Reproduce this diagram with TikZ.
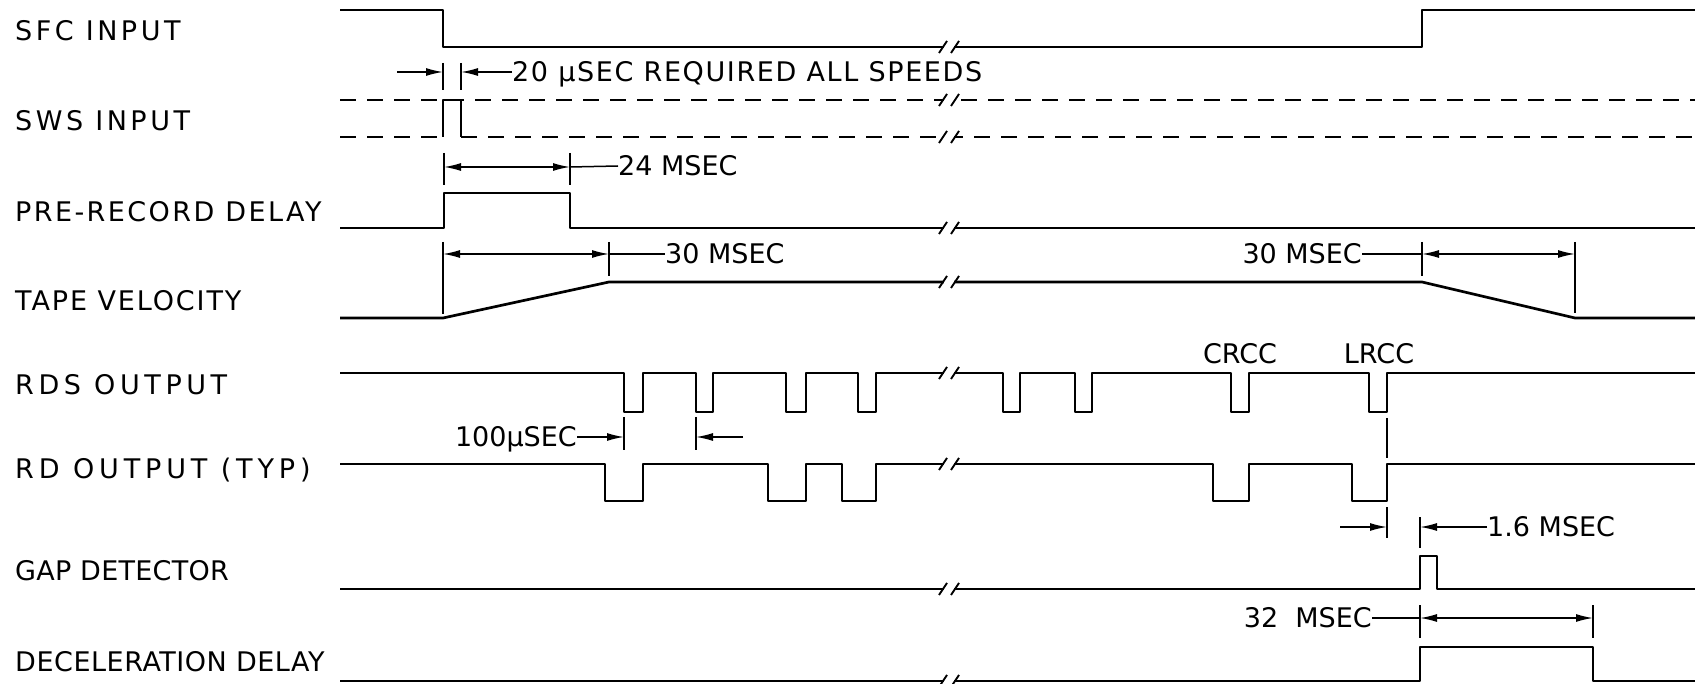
\documentclass[tikz,border=0pt]{standalone}
\usepackage{fontspec}
\setmainfont{DejaVu Sans}
\usepackage{tikz}
\usetikzlibrary{arrows.meta}

% break mark on a time line
\newcommand{\brkmark}[1]{%
    \fill[white] (944,#1-5) rectangle (954,#1+5);
    \draw[brkline] (939,#1+6) -- (947,#1-6);
    \draw[brkline] (951,#1+6) -- (959,#1-6);
}

\begin{document}
\begin{tikzpicture}[x=1pt, y=-1pt,
    wave/.style={line width=2.7pt, line join=round},
    dimline/.style={line width=1.5pt},
    tickline/.style={line width=1.7pt},
    brkline/.style={line width=1.9pt},
    lbl/.style={anchor=west, inner sep=0pt, text height=19.5pt, text depth=0pt, font=\fontsize{27}{30}\selectfont},
    spaced/.style={font=\fontsize{27}{30}\selectfont\addfontfeatures{LetterSpace=#1}},
    dimarrow/.style={dimline, -{Latex[length=17pt, width=8pt]}},
    dimboth/.style={dimline, {Latex[length=17pt, width=8pt]}-{Latex[length=17pt, width=8pt]}}]

    \useasboundingbox (0,0) rectangle (1695,684);

    % Signal names
    \node[lbl, spaced=13] (sfc)     at (15,31)  {SFC INPUT};
    \node[lbl, spaced=13] (sws)     at (15,121) {SWS INPUT};
    \node[lbl, spaced=9]  (prerec)  at (15,212) {PRE-RECORD DELAY};
    \node[lbl, spaced=7]  (tapevel) at (15,301) {TAPE VELOCITY};
    \node[lbl, spaced=17] (rds)     at (15,385) {RDS OUTPUT};
    \node[lbl, spaced=18] (rdout)   at (15,469) {RD OUTPUT (TYP)};
    \node[lbl, spaced=1]  (gapdet)  at (15,571) {GAP DETECTOR};
    \node[lbl, spaced=2]  (decel)   at (15,662) {DECELERATION DELAY};

    % Waveforms
    \draw[wave] (340,10) -- (443,10) -- (443,47) -- (1422,47) -- (1422,10) -- (1695,10);

    \draw[wave, dash pattern=on 16pt off 11pt] (340,100) -- (1695,100);
    \draw[wave, dash pattern=on 16pt off 11pt] (340,137) -- (443,137);
    \draw[wave] (443,137) -- (443,100) -- (461,100) -- (461,137);
    \draw[wave, dash pattern=on 16pt off 11pt] (461,137) -- (1695,137);

    \draw[wave] (340,228) -- (444,228) -- (444,193) -- (570,193) -- (570,228) -- (1695,228);

    \draw[wave] (340,318) -- (443,318) -- (609,282) -- (1422,282) -- (1575,318) -- (1695,318);

    \draw[wave] (340,373) \foreach \a/\b in {624/643, 696/713, 786/806, 858/876, 1003/1020, 1075/1092, 1231/1249, 1369/1387}
        { -- (\a,373) -- (\a,412) -- (\b,412) -- (\b,373) } -- (1695,373);

    \draw[wave] (340,464) \foreach \a/\b in {605/643, 768/806, 842/876, 1213/1249, 1352/1387}
        { -- (\a,464) -- (\a,501) -- (\b,501) -- (\b,464) } -- (1695,464);

    \draw[wave] (340,589) -- (1420,589) -- (1420,556) -- (1437,556) -- (1437,589) -- (1695,589);

    \draw[wave] (340,681) -- (1420,681) -- (1420,647) -- (1593,647) -- (1593,681) -- (1695,681);

    % Breaks
    \foreach \y in {47,100,137,228,282,373,464,589,681} {\brkmark{\y}}

    % Timing notes
    \node[lbl, spaced=6] (t20) at (512,72) {20 µSEC REQUIRED ALL SPEEDS};
    \node[lbl] (t24) at (618,166) {24 MSEC};
    \node[lbl] (t30a) at (665,254) {30 MSEC};
    \node[lbl, anchor=east] (t30b) at (1362,254) {30 MSEC};
    \node[lbl, anchor=center] (crcc) at (1240,354) {CRCC};
    \node[lbl, anchor=center] (lrcc) at (1379,354) {LRCC};
    \node[lbl, anchor=east] (t100) at (577,437) {100µSEC};
    \node[lbl] (t16) at (1487,527) {1.6 MSEC};
    \node[lbl, anchor=east] (t32) at (1372,618) {32~ MSEC};

    % 20 usec
    \coordinate (d20l) at (397,72);
    \coordinate (d20a) at (443,72);
    \coordinate (d20b) at (461,72);
    \draw[tickline] (443,63) -- (443,90);
    \draw[tickline] (461,63) -- (461,90);
    \draw[dimarrow] (d20l) -- (d20a);
    \draw[dimarrow] (t20.west) -- (d20b);

    % 24 msec
    \coordinate (d24a) at (444,167);
    \coordinate (d24b) at (570,167);
    \draw[tickline] (444,153) -- (444,185);
    \draw[tickline] (570,153) -- (570,185);
    \draw[dimboth] (d24a) -- (d24b);
    \draw[dimline] (d24b) -- (t24.west);

    % 30 msec, start
    \coordinate (d30a) at (443,254);
    \coordinate (d30b) at (609,254);
    \draw[tickline] (443,242) -- (443,314);
    \draw[tickline] (609,242) -- (609,276);
    \draw[dimboth] (d30a) -- (d30b);
    \draw[dimline] (d30b) -- (t30a.west);

    % 30 msec, stop
    \coordinate (d30c) at (1422,254);
    \coordinate (d30d) at (1575,254);
    \draw[tickline] (1422,242) -- (1422,276);
    \draw[tickline] (1575,242) -- (1575,313);
    \draw[dimboth] (d30c) -- (d30d);
    \draw[dimline] (t30b.east) -- (d30c);

    % 100 usec
    \coordinate (d100a) at (624,437);
    \coordinate (d100b) at (696,437);
    \coordinate (d100r) at (743,437);
    \draw[tickline] (624,417) -- (624,450);
    \draw[tickline] (696,417) -- (696,450);
    \draw[dimarrow] (t100.east) -- (d100a);
    \draw[dimarrow] (d100r) -- (d100b);

    % LRCC to gap
    \draw[tickline] (1387,418) -- (1387,458);

    % 1.6 msec
    \coordinate (d16l) at (1340,527);
    \coordinate (d16a) at (1387,527);
    \coordinate (d16b) at (1420,527);
    \draw[tickline] (1387,507) -- (1387,538);
    \draw[tickline] (1420,517) -- (1420,548);
    \draw[dimarrow] (d16l) -- (d16a);
    \draw[dimarrow] (t16.west) -- (d16b);

    % 32 msec
    \coordinate (d32a) at (1420,618);
    \coordinate (d32b) at (1593,618);
    \draw[tickline] (1420,605) -- (1420,638);
    \draw[tickline] (1593,605) -- (1593,638);
    \draw[dimboth] (d32a) -- (d32b);
    \draw[dimline] (t32.east) -- (d32a);

\end{tikzpicture}
\end{document}
